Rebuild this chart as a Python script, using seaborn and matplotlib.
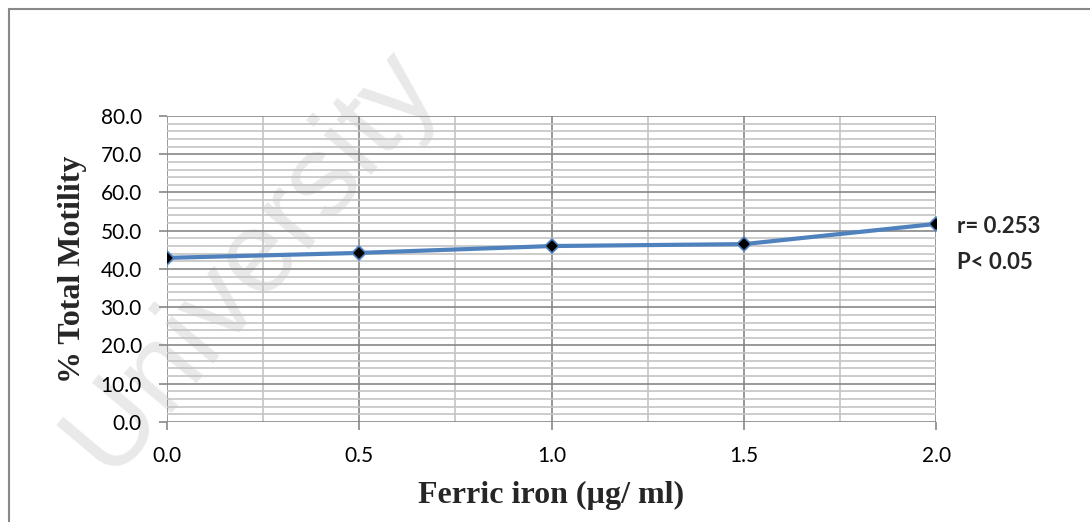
import numpy as np
import pandas as pd
import matplotlib
matplotlib.use('Agg')
import matplotlib.pyplot as plt
from matplotlib.lines import Line2D
from matplotlib.ticker import MultipleLocator
import seaborn as sns

# dados
ferro = [0.0, 0.5, 1.0, 1.5, 2.0]
motilidade = [42.9, 44.2, 46.0, 46.5, 51.8]
x_ticks = [0.0, 0.5, 1.0, 1.5, 2.0]
y_ticks = [0, 10, 20, 30, 40, 50, 60, 70, 80]

df = pd.DataFrame({'ferro': ferro, 'motilidade': motilidade})

sns.set_style('white')
plt.rcParams['font.family'] = ['Lato', 'DejaVu Sans']

fig = plt.figure(figsize=(10.9, 5.22), dpi=100)
ax = fig.add_axes([0.153, 0.1916, 0.706, 0.5862])
ax.patch.set_visible(False)

# marca d'água
fig.text(0.23, 0.5, 'University', rotation=50, fontsize=84, color='#e9e9e9',
         ha='center', va='center', zorder=-1, family='Liberation Sans')

# moldura externa (só topo e esquerda aparecem)
fig.lines.append(Line2D([0.0083, 1.0], [0.983, 0.983], transform=fig.transFigure,
                        color='#888888', linewidth=1.5))
fig.lines.append(Line2D([0.0083, 0.0083], [0.0, 0.983], transform=fig.transFigure,
                        color='#888888', linewidth=1.5))

sns.lineplot(data=df, x='ferro', y='motilidade', ax=ax, color='#4f81bd', linewidth=3,
             marker='D', markersize=7, markerfacecolor='black', markeredgecolor='#4f81bd',
             markeredgewidth=1.2, zorder=5)

ax.set_xlim(0, 2)
ax.set_ylim(0, 80)
ax.set_xticks(x_ticks)
ax.set_yticks(y_ticks)
ax.set_xticklabels([f'{v:.1f}' for v in x_ticks])
ax.set_yticklabels([f'{v:.1f}' for v in y_ticks])
ax.xaxis.set_minor_locator(MultipleLocator(0.25))
ax.yaxis.set_minor_locator(MultipleLocator(2))
ax.grid(which='major', color='#878787', linewidth=1.2)
ax.grid(which='minor', color='#c4c4c4', linewidth=1.2)
ax.set_axisbelow(True)
for s in ax.spines.values():
    s.set_visible(False)
ax.tick_params(axis='both', which='major', labelsize=15, color='#878787', length=6,
               width=1.2, direction='out', left=True, bottom=True, labelcolor='black')
ax.tick_params(axis='x', pad=11)
ax.tick_params(axis='y', pad=12)
ax.tick_params(which='minor', length=0)

ax.set_xlabel('Ferric iron (µg/ ml)', family='Liberation Serif', fontweight='bold',
              fontsize=23, labelpad=11)
ax.set_ylabel('% Total Motility', family='Liberation Serif', fontweight='bold',
              fontsize=23, labelpad=10)

fig.text(0.878, 0.567, 'r= 0.253', fontsize=16, fontweight='bold', va='center')
fig.text(0.878, 0.497, 'P< 0.05', fontsize=16, fontweight='bold', va='center')

fig.savefig('out.png', dpi=100)
